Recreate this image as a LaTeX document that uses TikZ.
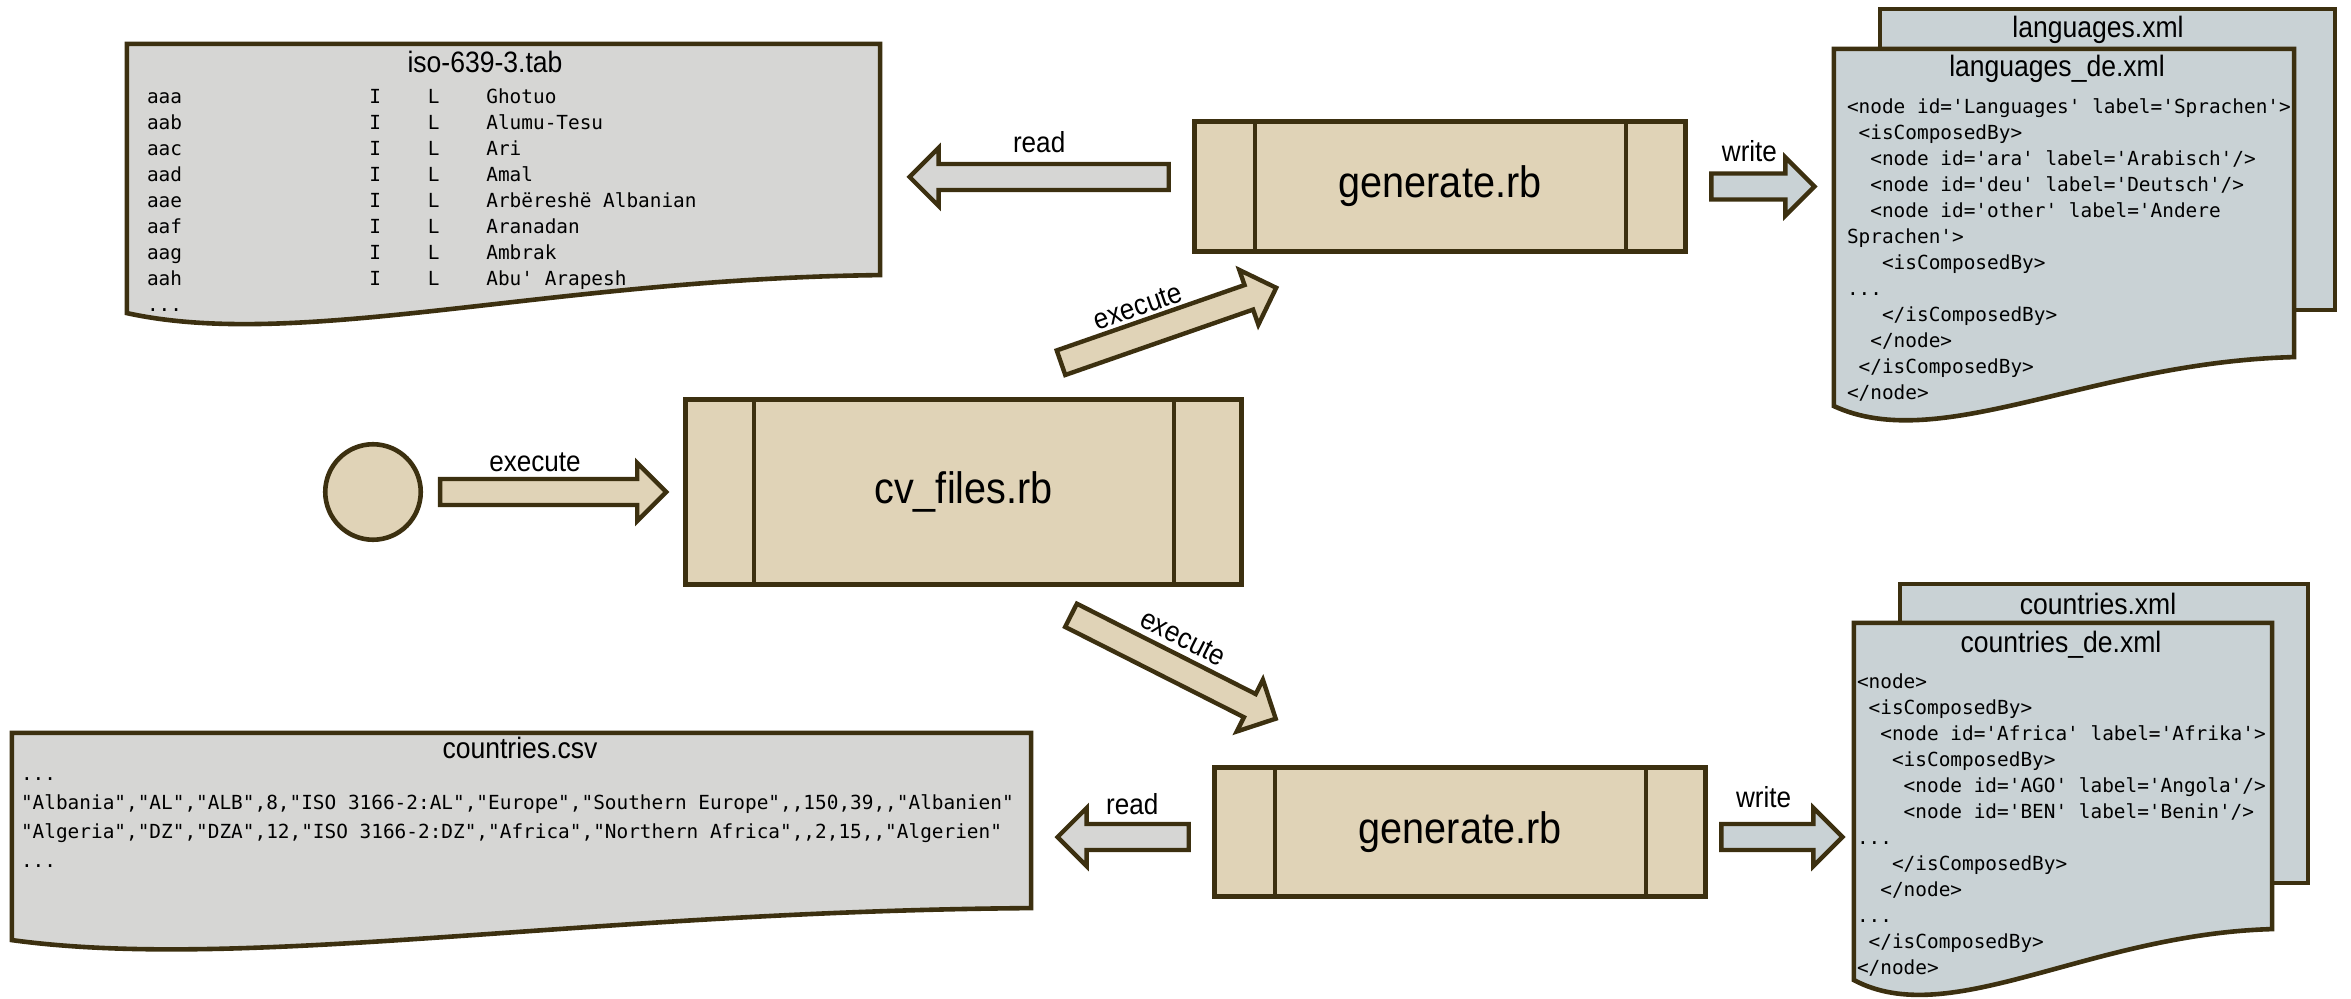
\documentclass[tikz,border=0pt]{standalone}
\usepackage{fontspec}
\setmonofont{DejaVu Sans Mono}
\newfontfamily\labelfont[FakeStretch=0.9]{Liberation Sans}
\usepackage{tikz}
\usetikzlibrary{calc,positioning}
\definecolor{linebrown}{RGB}{60,48,16}
\definecolor{progfill}{RGB}{224,211,183}
\definecolor{docgray}{RGB}{214,214,212}
\definecolor{xmlblue}{RGB}{201,210,213}
\def\blockarrow[#1](#2)(#3){\draw[arrowline,#1] ($(#2)!6.5pt!90:(#3)$) -- ($(#3)!14.5pt!(#2)!6.5pt!-90:(#2)$) -- ($(#3)!14.5pt!(#2)!14.5pt!-90:(#2)$) -- (#3) -- ($(#3)!14.5pt!(#2)!14.5pt!90:(#2)$) -- ($(#3)!14.5pt!(#2)!6.5pt!90:(#2)$) -- ($(#2)!6.5pt!-90:(#3)$) -- cycle;}
\def\docshape[#1](#2)(#3){\draw[#1] (#2.north west) -- (#2.north east) -- (#2.south east) .. controls ($(#2.south west)!0.56!(#2.south east)+(0,0.1*#3)$) and ($(#2.south west)!0.23!(#2.south east)+(0,2*#3)$) .. ($(#2.south west)+(0,#3)$) -- cycle;}
\tikzset{
  outline/.style={draw=linebrown, line width=2.3pt, line join=miter},
  arrowline/.style={draw=linebrown, line width=2.2pt, line join=miter},
  prog/.style={outline, fill=progfill, inner sep=0pt, font=\labelfont\fontsize{22}{26}\selectfont,
    path picture={\draw[linebrown, line width=2pt] ([xshift=#1]path picture bounding box.north west) -- ([xshift=#1]path picture bounding box.south west) ([xshift=-#1]path picture bounding box.north east) -- ([xshift=-#1]path picture bounding box.south east);}},
  docframe/.style={inner sep=0pt},
  doctitle/.style={font=\labelfont\fontsize{14.75}{17}\selectfont, inner sep=0pt},
  code/.style={font=\ttfamily\fontsize{9.7}{13}\selectfont, inner sep=0pt, anchor=base west},
  lbl/.style={font=\labelfont\fontsize{14.5}{17}\selectfont, inner sep=0pt},
}

\begin{document}
\begin{tikzpicture}[x=0.5pt, y=-0.5pt]
	%%%%% START %%%%%
	\useasboundingbox (0,0) rectangle (2351,999);

	% files
	\node[docframe, minimum width=376.2pt, minimum height=115.2pt] (iso) at (503.5,159.5) {};
	\node[docframe, minimum width=509.2pt, minimum height=87.2pt] (csv) at (521.5,820.5) {};
	\node[docframe, minimum width=227.2pt, minimum height=150.2pt] (langen) at (2107.5,159.5) {};
	\node[docframe, minimum width=229.7pt, minimum height=153.7pt] (langde) at (2064,203) {};
	\node[docframe, minimum width=203.7pt, minimum height=149.2pt] (countren) at (2104,733.5) {};
	\node[docframe, minimum width=208.7pt, minimum height=152.7pt] (countrde) at (2063,776) {};

	\docshape[outline, fill=docgray](iso)(38)
	\docshape[outline, fill=docgray](csv)(32)
	\draw[outline, fill=xmlblue] (langen.north west) rectangle (langen.south east);
	\node[doctitle] (langentitle) at ($(langen.north)+(-9.5,20.7)$) {languages.xml};
	\docshape[outline, fill=xmlblue](langde)(49)
	\draw[outline, fill=xmlblue] (countren.north west) rectangle (countren.south east);
	\node[doctitle] (countrentitle) at ($(countren.north)+(-6,19.7)$) {countries.xml};
	\docshape[outline, fill=xmlblue](countrde)(51)

	\node[doctitle] (isotitle) at ($(iso.north)+(-18.5,17.7)$) {iso-639-3.tab};
	\node[code] (isotext) at ($(iso.north west)+(19.7,59.7)$) {\begin{tabular}[t]{@{}p{111.2pt}@{}p{29.25pt}@{}p{29.25pt}@{}l@{}}
aaa & I & L & Ghotuo\\
aab & I & L & Alumu-Tesu\\
aac & I & L & Ari\\
aad & I & L & Amal\\
aae & I & L & Arbëreshë Albanian\\
aaf & I & L & Aranadan\\
aag & I & L & Ambrak\\
aah & I & L & Abu' Arapesh\\
... & & &
\end{tabular}};

	\node[doctitle] (csvtitle) at ($(csv.north)+(-1.5,15)$) {countries.csv};
	\node[code, font=\ttfamily\fontsize{9.7}{14.5}\selectfont] (csvtext) at ($(csv.north west)+(8.7,47.7)$) {\begin{tabular}[t]{@{}l@{}}
...\\
"Albania","AL","ALB",8,"ISO 3166-2:AL","Europe","Southern Europe",,150,39,,"Albanien"\\
"Algeria","DZ","DZA",12,"ISO 3166-2:DZ","Africa","Northern Africa",,2,15,,"Algerien"\\
...
\end{tabular}};

	\node[doctitle] (langdetitle) at ($(langde.north)+(-7,19.7)$) {languages\_de.xml};
	\node[code] (langdetext) at ($(langde.north west)+(12.7,65)$) {\begin{tabular}[t]{@{}l@{}}
<node id='Languages' label='Sprachen'>\\
\ <isComposedBy>\\
\ \ <node id='ara' label='Arabisch'/>\\
\ \ <node id='deu' label='Deutsch'/>\\
\ \ <node id='other' label='Andere\\
Sprachen'>\\
\ \ \ <isComposedBy>\\
...\\
\ \ \ </isComposedBy>\\
\ \ </node>\\
\ </isComposedBy>\\
</node>
\end{tabular}};

	\node[doctitle] (countrdetitle) at ($(countrde.north)+(-2,21.7)$) {countries\_de.xml};
	\node[code] (countrdetext) at ($(countrde.north west)+(2.7,65.3)$) {\begin{tabular}[t]{@{}l@{}}
<node>\\
\ <isComposedBy>\\
\ \ <node id='Africa' label='Afrika'>\\
\ \ \ <isComposedBy>\\
\ \ \ \ <node id='AGO' label='Angola'/>\\
\ \ \ \ <node id='BEN' label='Benin'/>\\
...\\
\ \ \ </isComposedBy>\\
\ \ </node>\\
...\\
\ </isComposedBy>\\
</node>
\end{tabular}};

	% scripts
	\node[draw=linebrown, fill=progfill, circle, line width=2.3pt, minimum size=47.75pt, inner sep=0pt] (start) at (373,492) {};
	\node[prog=34pt, minimum width=278pt, minimum height=92.5pt] (cv) at (963.5,492) {cv\_files.rb};
	\node[prog=30pt, minimum width=245.5pt, minimum height=65pt] (gen1) at (1440,186.5) {generate.rb};
	\node[prog=30pt, minimum width=245.5pt, minimum height=64.5pt] (gen2) at (1460,832) {generate.rb};

	% arrows
	\coordinate (ex0a) at ($(start.east)+(17,0)$);
	\coordinate (ex0b) at ($(cv.west)+(-17,0)$);
	\blockarrow[fill=progfill](ex0a)(ex0b)
	\path (ex0a) -- (ex0b) node[lbl, pos=0.42, above=9.75pt] {execute};

	\coordinate (ex1a) at ($(cv.north)+(97.5,-34.5)$);
	\coordinate (ex1b) at ($(gen1.south west)+(84,34)$);
	\blockarrow[fill=progfill](ex1a)(ex1b)
	\path (ex1a) -- (ex1b) node[lbl, sloped, pos=0.4, above=8.75pt] {execute};

	\coordinate (ex2a) at ($(cv.south)+(107.5,28.5)$);
	\coordinate (ex2b) at ($(gen2.north west)+(63.5,-46.5)$);
	\blockarrow[fill=progfill](ex2a)(ex2b)
	\path (ex2a) -- (ex2b) node[lbl, sloped, pos=0.48, above=10.25pt] {execute};

	\coordinate (rd1a) at ($(gen1.west)+(-23.5,-9.5)$);
	\coordinate (rd1b) at ($(iso.east |- rd1a)+(29.5,0)$);
	\blockarrow[fill=docgray](rd1a)(rd1b)
	\path (rd1a) -- (rd1b) node[lbl, pos=0.5, above=11.75pt] {read};

	\coordinate (wr1a) at ($(gen1.east)+(23.5,0)$);
	\coordinate (wr1b) at ($(langde.west |- wr1a)+(-19.5,0)$);
	\blockarrow[fill=xmlblue](wr1a)(wr1b)
	\path (wr1a) -- (wr1b) node[lbl, pos=0.37, above=12.2pt] {write};

	\coordinate (rd2a) at ($(gen2.west)+(-23.5,5)$);
	\coordinate (rd2b) at ($(csv.east |- rd2a)+(26.5,0)$);
	\blockarrow[fill=docgray](rd2a)(rd2b)
	\path (rd2a) -- (rd2b) node[lbl, pos=0.43, above=10.75pt] {read};

	\coordinate (wr2a) at ($(gen2.east)+(13.5,5)$);
	\coordinate (wr2b) at ($(countrde.west |- wr2a)+(-11.5,0)$);
	\blockarrow[fill=xmlblue](wr2a)(wr2b)
	\path (wr2a) -- (wr2b) node[lbl, pos=0.35, above=14.2pt] {write};
	%%%%% END %%%%%
\end{tikzpicture}
\end{document}
